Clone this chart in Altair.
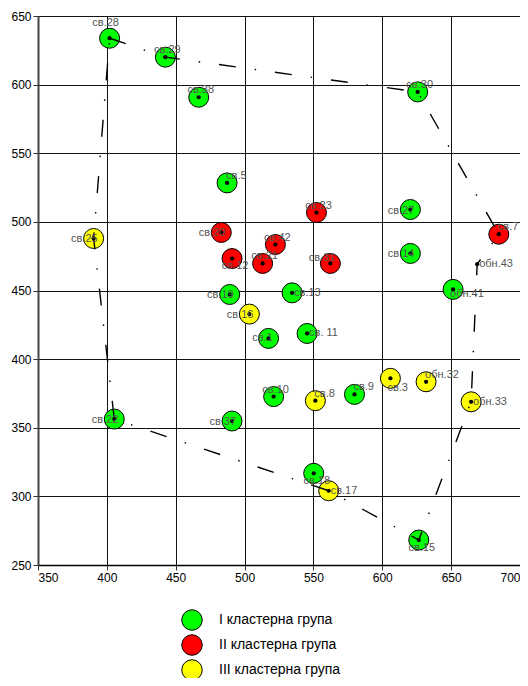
import altair as alt
import pandas as pd

# ---- data ----
labels = ["св.28", "св.29", "св.38", "св.5", "св.30", "св.23", "св.27", "св.7",
          "св.20", "св.12", "св.21", "св.42", "св.31", "св.14", "обн.43", "обн.41",
          "св.25", "св.19", "св.16", "св.13", "св. 11", "св.1", "св.10", "св.8",
          "св.9", "св.3", "обн.32", "обн.33", "св.22", "св.37", "св.18", "св.17", "св.15"]
xs = [402.0, 442.5, 466.7, 487.3, 625.7, 552.2, 620.4, 684.6,
      483.1, 490.9, 513.1, 522.4, 562.3, 620.4, 668.9, 651.4,
      390.4, 489.2, 503.5, 534.5, 545.4, 517.4, 521.1, 551.4,
      579.8, 605.9, 631.8, 664.5, 405.4, 490.9, 550.2, 561.1, 626.5]
ys = [633.8, 620.0, 590.8, 528.4, 594.7, 506.8, 509.0, 491.0,
      492.3, 473.3, 469.7, 483.5, 469.7, 477.0, 469.2, 450.8,
      487.9, 447.1, 432.8, 448.3, 418.7, 415.1, 372.7, 369.7,
      374.3, 386.0, 383.5, 368.9, 356.3, 354.9, 316.8, 304.1, 268.2]
G1, G2, G3 = "I кластерна група", "II кластерна група", "III кластерна група"
clusters = [G1, G1, G1, G1, G1, G2, G1, G2,
            G2, G2, G2, G2, G2, G1, None, G1,
            G3, G1, G3, G1, G1, G1, G1, G3,
            G1, G3, G3, G3, G1, G1, G1, G3, G1]
hull = ["св.28", "св.29", "св.30", "св.7", "обн.43", "обн.33", "св.15",
        "св.17", "св.22", "св.25", "св.28"]

x_ticks = [350, 400, 450, 500, 550, 600, 650, 700]
y_ticks = [250, 300, 350, 400, 450, 500, 550, 600, 650]

# ---- label placement groups (align, dx, dy) ----
placements = {
    "W": ("right", 4, 1, ["св.25", "св.20", "св.19", "св.16", "св.27", "св.14", "св.22", "св.37"]),
    "W2": ("right", 5, -5, ["св.31"]),
    "E": ("left", 2, 0, ["обн.43", "св.13", "св. 11", "обн.33", "св.17"]),
    "NE": ("left", -1, -7, ["св.8", "обн.32", "св.9", "св.7", "св.5"]),
    "SE": ("left", -3, 5, ["обн.41"]),
    "SE2": ("left", -3, 10, ["св.3"]),
    "N": ("center", 2, -7, ["св.29", "св.38", "св.30", "св.23", "св.42", "св.10", "св.21"]),
    "N2": ("center", -4, -15, ["св.28"]),
    "S": ("center", 3, 7.5, ["св.12", "св.18", "св.15"]),
    "C": ("center", -6, 0, ["св.1"]),
}

df = pd.DataFrame({"label": labels, "x": xs, "y": ys, "cluster": clusters})
pos = {l: (x, y) for l, x, y in zip(labels, xs, ys)}
hull_df = pd.DataFrame({
    "order": list(range(len(hull))),
    "x": [pos[h][0] for h in hull],
    "y": [pos[h][1] for h in hull],
})

FONT = "Liberation Sans"
xscale = alt.Scale(domain=[350, 700], nice=False, zero=False)
yscale = alt.Scale(domain=[250, 650], nice=False, zero=False)
X = alt.X("x:Q", scale=xscale,
          axis=alt.Axis(values=x_ticks, title=None, grid=True, format="d",
                        domainColor="#000", domainWidth=1.5))
Y = alt.Y("y:Q", scale=yscale,
          axis=alt.Axis(values=y_ticks, title=None, grid=True, format="d",
                        domainColor="#444", domainWidth=2))

base = alt.Chart(df)

circles = base.transform_filter("datum.cluster != null").mark_point(
    filled=True, shape="circle", size=400, stroke="black", strokeWidth=1, opacity=1
).encode(
    x=X, y=Y,
    fill=alt.Fill("cluster:N",
                  scale=alt.Scale(domain=[G1, G2, G3], range=["#00FF00", "#FF0000", "#FFFF00"]),
                  legend=alt.Legend(title=None, orient="none", legendX=143, legendY=593,
                                    symbolSize=420, symbolStrokeColor="black",
                                    symbolStrokeWidth=1, symbolType="circle",
                                    labelFont=FONT, labelFontSize=14, labelColor="black",
                                    labelOffset=16, rowPadding=-1, padding=0)),
)

line = alt.Chart(hull_df).mark_line(
    color="black", strokeWidth=1.4, strokeDash=[17, 19, 1.5, 19]
).encode(x=alt.X("x:Q", scale=xscale), y=alt.Y("y:Q", scale=yscale), order="order:Q")

dots = base.mark_point(filled=True, shape="circle", size=18, color="black", opacity=1).encode(
    x=alt.X("x:Q", scale=xscale), y=alt.Y("y:Q", scale=yscale))

texts = []
for key, (align, dx, dy, names) in placements.items():
    texts.append(
        base.transform_filter(alt.FieldOneOfPredicate(field="label", oneOf=names))
        .mark_text(align=align, baseline="middle", dx=dx, dy=dy, font=FONT,
                   fontSize=11, color="#555")
        .encode(x=alt.X("x:Q", scale=xscale), y=alt.Y("y:Q", scale=yscale), text="label:N")
    )

chart = alt.layer(circles, line, dots, *texts).properties(
    width=482, height=549,
    autosize=alt.AutoSizeParams(type="none"),
    padding={"left": 30, "top": 8, "right": 0, "bottom": 113},
    background="white",
).configure_axis(
    gridColor="#111", gridWidth=1, gridOpacity=1,
    tickColor="#333", tickSize=5, labelFont=FONT, labelFontSize=12,
    labelColor="black", labelPadding=2,
).configure_view(stroke="#111", strokeWidth=1)

chart.save("out.html", embed_options={"renderer": "svg", "actions": False})
